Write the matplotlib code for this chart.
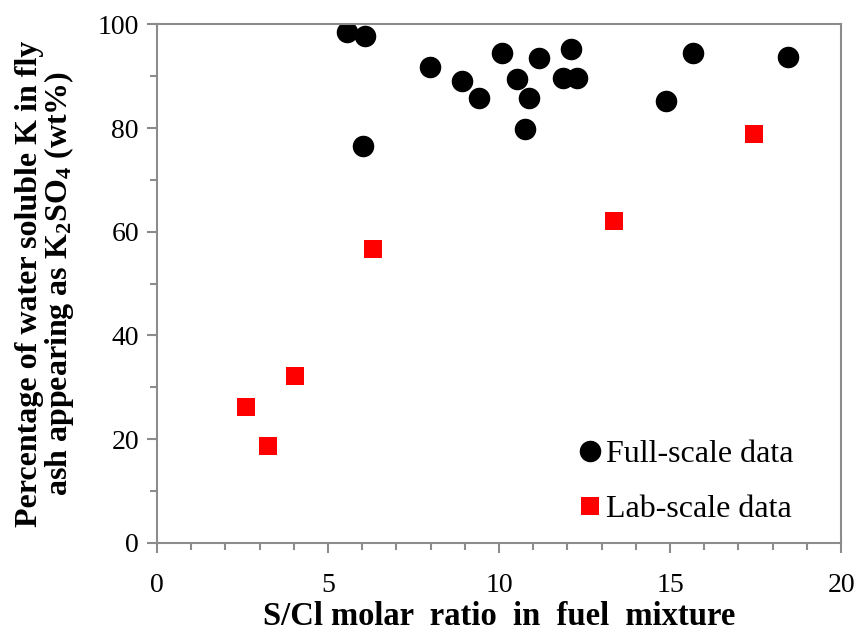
import matplotlib
matplotlib.use("Agg")
import matplotlib.pyplot as plt
from matplotlib.ticker import MultipleLocator

plt.rcParams['font.family'] = ['Liberation Serif', 'DejaVu Serif']
plt.rcParams['mathtext.fontset'] = 'custom'
plt.rcParams['mathtext.rm'] = 'Liberation Serif:bold'
plt.rcParams['mathtext.bf'] = 'Liberation Serif:bold'
plt.rcParams['mathtext.it'] = 'Liberation Serif:bold'

# Full-scale data
full_x = [5.55, 6.08, 6.02, 7.98, 8.92, 9.42, 10.09, 10.52, 10.76, 10.88,
          11.17, 11.88, 12.11, 12.29, 14.88, 15.68, 18.45]
full_y = [98.6, 97.7, 76.6, 91.8, 89.1, 85.9, 94.5, 89.5, 79.8, 85.9,
          93.5, 89.6, 95.2, 89.6, 85.2, 94.5, 93.7]

# Lab-scale data
lab_x = [2.60, 3.23, 4.04, 6.30, 13.37, 17.44]
lab_y = [26.1, 18.6, 32.1, 56.6, 62.0, 78.8]

x_ticks = [0, 5, 10, 15, 20]
y_ticks = [0, 20, 40, 60, 80, 100]

fig = plt.figure(figsize=(8.6, 6.43), dpi=100)
ax = fig.add_axes([0.1826, 0.156, 0.978 - 0.1826, 0.9619 - 0.156])

ax.plot(full_x, full_y, 'o', color='black', markersize=14.5, linestyle='none',
        label='Full-scale data')
ax.plot(lab_x, lab_y, 's', color='red', markersize=13.5, linestyle='none',
        markeredgewidth=0, label='Lab-scale data')

ax.set_xlim(0, 20)
ax.set_ylim(0, 100)
ax.set_xticks(x_ticks)
ax.set_yticks(y_ticks)
ax.xaxis.set_minor_locator(MultipleLocator(1))
ax.yaxis.set_minor_locator(MultipleLocator(10))

gray = '#8c8c8c'
for s in ax.spines.values():
    s.set_color(gray)
    s.set_linewidth(1.5)
ax.tick_params(which='major', direction='out', length=7, width=1.5, color=gray,
               labelsize=20)
ax.tick_params(which='minor', direction='out', length=5, width=1.5, color=gray)
ax.tick_params(axis='x', which='major', pad=15)
ax.tick_params(axis='y', which='major', pad=6)

ax.set_xlabel('S/Cl molar  ratio  in  fuel  mixture', fontsize=23.5,
              fontweight='bold')
ax.xaxis.set_label_coords(0.5, -0.113)
ax.set_ylabel('Percentage of water soluble K in fly\n'
              'ash appearing as K$_2$SO$_4$ (wt%)', fontsize=23,
              fontweight='bold', linespacing=0.95)
ax.yaxis.set_label_coords(-0.118, 0.5)

leg = ax.legend(loc='upper left', frameon=False, fontsize=23,
                handletextpad=0.0, handlelength=1.0, labelspacing=0.8,
                borderpad=0, borderaxespad=0, bbox_to_anchor=(0.61, 0.198))

fig.savefig('out.png', dpi=100)
